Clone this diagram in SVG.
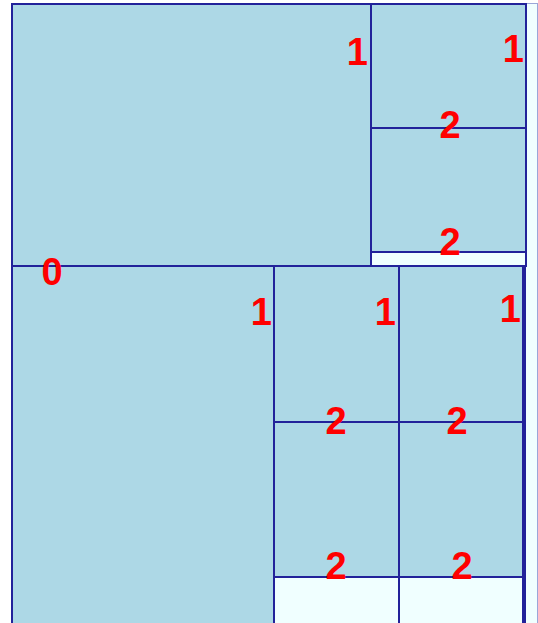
<svg xmlns="http://www.w3.org/2000/svg" width="538" height="623" viewBox="0 0 538 623">
<style>
.box{fill:#add8e6;stroke:#22229a;stroke-width:2}
.cont{fill:#f0ffff;stroke:#22229a;stroke-width:2}
.outer{fill:#f0ffff;stroke:#9aa6d8;stroke-width:1}
.lbl{font-family:"Liberation Sans",Arial,sans-serif;font-weight:bold;font-size:38px;fill:#ff0000}
</style>
<rect width="538" height="623" fill="#ffffff"/>
<g id="root">
<rect class="outer" x="11.5" y="3.5" width="526" height="640"/>
</g>
<g id="top-section">
<rect class="box" x="12" y="4" width="514" height="262"/>
</g>
<g id="top-left">
<rect class="box" x="12" y="4" width="359" height="262"/>
</g>
<g id="top-col">
<rect class="cont" x="371" y="4" width="155" height="262"/>
</g>
<g id="top-col-a">
<rect class="box" x="371" y="4" width="155" height="124"/>
</g>
<g id="top-col-b">
<rect class="box" x="371" y="128" width="155" height="124"/>
</g>
<g id="bottom-section">
<rect class="box" x="12" y="266" width="513" height="380" stroke="none"/>
</g>
<g id="bottom-left">
<rect class="box" x="12" y="266" width="262" height="380"/>
</g>
<g id="bottom-col1">
<rect class="cont" x="274" y="266" width="125" height="380"/>
</g>
<g id="bottom-col1-a">
<rect class="box" x="274" y="266" width="125" height="156"/>
</g>
<g id="bottom-col1-b">
<rect class="box" x="274" y="422" width="125" height="155"/>
</g>
<g id="bottom-col2">
<rect class="cont" x="399" y="266" width="124" height="380"/>
</g>
<g id="bottom-col2-a">
<rect class="box" x="399" y="266" width="124" height="156"/>
</g>
<g id="bottom-col2-b">
<rect class="box" x="399" y="422" width="124" height="155"/>
</g>
<g id="connectors"></g>
<g id="labels">
<text class="lbl" x="52" y="285" text-anchor="middle">0</text>
<text class="lbl" x="368" y="65" text-anchor="end">1</text>
<text class="lbl" x="524" y="62" text-anchor="end">1</text>
<text class="lbl" x="450" y="138" text-anchor="middle">2</text>
<text class="lbl" x="450" y="255" text-anchor="middle">2</text>
<text class="lbl" x="272" y="325" text-anchor="end">1</text>
<text class="lbl" x="396" y="325" text-anchor="end">1</text>
<text class="lbl" x="521" y="322" text-anchor="end">1</text>
<text class="lbl" x="336" y="434" text-anchor="middle">2</text>
<text class="lbl" x="457" y="434" text-anchor="middle">2</text>
<text class="lbl" x="336" y="579" text-anchor="middle">2</text>
<text class="lbl" x="462" y="579" text-anchor="middle">2</text>
</g>
</svg>
